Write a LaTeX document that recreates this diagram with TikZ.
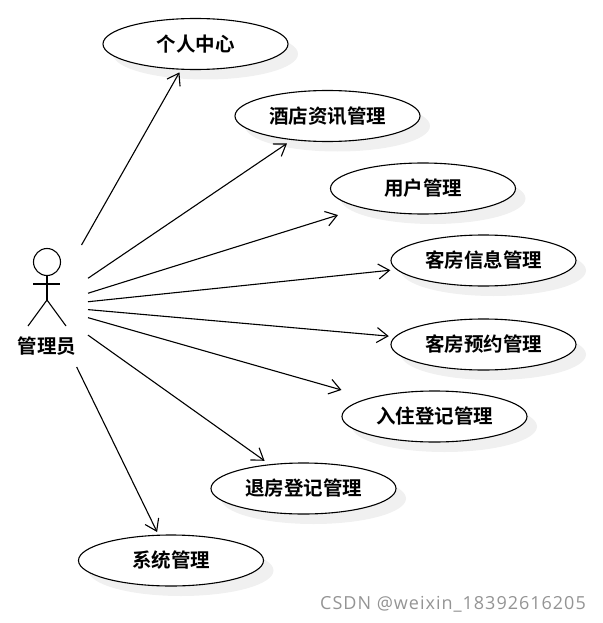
\documentclass[tikz,border=0pt]{standalone}
\usepackage{fontspec}
\setmainfont{Open Sans}
\newfontfamily\cjk{Noto Sans CJK SC}[BoldFont={* Bold}]
\usetikzlibrary{arrows.meta,shapes.geometric}
\tikzset{
  x=1pt,y=-1pt,
  usecase/.style={ellipse,draw=black,line width=1.1pt,fill=white,minimum width=185pt,minimum height=51pt,inner sep=0pt,font=\cjk\bfseries\fontsize{19.5}{22}\selectfont,text=black},
  casecast/.style={fill=black!6,draw=none},
  assoc/.style={draw=black,line width=1.1pt,-{Straight Barb[length=11pt,width=15pt,line width=1.1pt]}},
  stick/.style={draw=black,line width=1.1pt},
  actorzone/.style={draw=none,minimum width=82pt,minimum height=122pt,inner sep=0pt,outer sep=0pt}
}
\begin{document}
\begin{tikzpicture}
\useasboundingbox (0,0) rectangle (602,623);
\foreach \px/\py in {195.5/44,327.5/116,423/188.5,483.5/260.5,483.5/344.5,434.5/416.5,303.5/488.5,171/560.5}{
  \fill[casecast] (\px+10,\py+10) ellipse [x radius=92.5,y radius=25.5];
}
\node[usecase] (c1) at (195.5,44) {个人中心};
\node[usecase] (c2) at (327.5,116) {酒店资讯管理};
\node[usecase] (c3) at (423,188.5) {用户管理};
\node[usecase] (c4) at (483.5,260.5) {客房信息管理};
\node[usecase] (c5) at (483.5,344.5) {客房预约管理};
\node[usecase] (c6) at (434.5,416.5) {入住登记管理};
\node[usecase] (c7) at (303.5,488.5) {退房登记管理};
\node[usecase] (c8) at (171,560.5) {系统管理};
\node[actorzone] (actor) at (47,306) {};
\foreach \t/\gap in {c1/3,c2/6,c3/24,c4/6,c5/6,c6/29,c7/6,c8/3}{ \draw[assoc,shorten >=\gap pt] (actor) -- (\t); }
\node[circle,draw=black,line width=1.1pt,minimum size=27pt,inner sep=0pt] (head) at (47,262) {};
\coordinate (hip) at (47,300);
\coordinate (armL) at (33,284);
\coordinate (armR) at (60,284);
\coordinate (footL) at (28,326);
\coordinate (footR) at (66,326);
\draw[stick] (head) -- (hip);
\draw[stick] (armL) -- (armR);
\draw[stick] (footL) -- (hip) -- (footR);
\node[font=\cjk\bfseries\fontsize{19.5}{22}\selectfont,inner sep=0pt] (actorname) at (47,346) {管理员};
\node[font=\fontsize{18}{20}\selectfont\addfontfeature{LetterSpace=5.5},text=black!42,inner sep=0pt] (mark) at (453,604.5) {CSDN @weixin\_18392616205};
\end{tikzpicture}
\end{document}
